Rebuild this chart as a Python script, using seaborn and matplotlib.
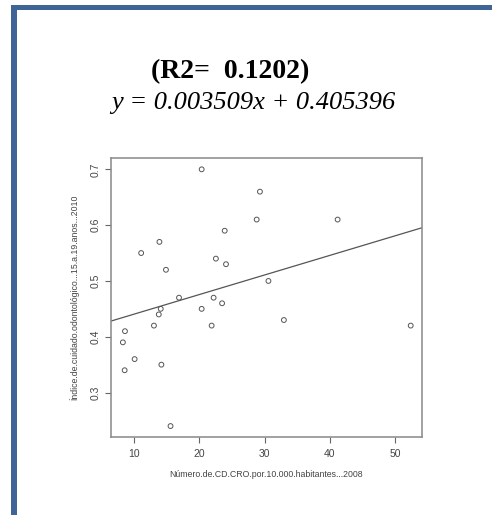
import matplotlib
matplotlib.use("Agg")
import matplotlib.pyplot as plt
from matplotlib.patches import Rectangle
import seaborn as sns
import pandas as pd

# Data
cd_cro = [8.3, 8.57, 8.62, 10.1, 11.1, 13.06, 13.8, 13.9, 14.1, 14.2, 14.9,
          15.6, 16.9, 20.37, 20.37, 21.9, 22.2, 22.55, 23.5, 23.9, 24.1,
          28.8, 29.3, 30.6, 32.97, 41.2, 52.4]
indice = [0.39, 0.34, 0.41, 0.36, 0.55, 0.42, 0.44, 0.57, 0.45, 0.35, 0.52,
          0.24, 0.47, 0.70, 0.45, 0.42, 0.47, 0.54, 0.46, 0.59, 0.53,
          0.61, 0.66, 0.50, 0.43, 0.61, 0.42]
slope, intercept = 0.003509, 0.405396
r2 = 0.1202

x_ticks = [10, 20, 30, 40, 50]
y_ticks = [0.3, 0.4, 0.5, 0.6, 0.7]
x_label = "Número.de.CD.CRO.por.10.000.habitantes...2008"
y_label = "Índice.de.cuidado.odontológico...15.a.19.anos...2010"

df = pd.DataFrame({"x": cd_cro, "y": indice})

sns.set_style("white")
plt.rcParams["font.family"] = ["Liberation Sans", "DejaVu Sans"]

fig = plt.figure(figsize=(4.92, 5.15), dpi=100)
W, H = 492, 515
# axes box in pixels: left 111, top 158, right 422, bottom 437
ax = fig.add_axes([111 / W, 1 - 437 / H, (422 - 111) / W, (437 - 158) / H])

sns.scatterplot(data=df, x="x", y="y", ax=ax, s=12, marker="o",
                facecolors="none", edgecolor="#555555", linewidth=0.7)
ax.axline((0, intercept), slope=slope, color="#555555", lw=0.9)

ax.set_xlim(6.48, 54.13)
ax.set_ylim(0.2204, 0.7203)
ax.set_xticks(x_ticks)
ax.set_yticks(y_ticks)
ax.set_yticklabels([str(v) for v in y_ticks], rotation=90, va="center")
ax.tick_params(axis="both", direction="out", length=4, width=0.8,
               colors="#666666", labelcolor="#444444", labelsize=7.5,
               bottom=True, left=True)
ax.tick_params(axis="x", pad=4.5)
ax.tick_params(axis="y", pad=3.5)
for sp in ax.spines.values():
    sp.set_color("#888888")
    sp.set_linewidth(1.1)
ax.set_xlabel(x_label, fontsize=6.3, color="#444444", labelpad=8)
ax.set_ylabel(y_label, fontsize=6.3, color="#444444", labelpad=8)

# titles
fig.text(230 / W, 1 - 72 / H, f"(R2=  {r2})", ha="center", va="center",
         fontsize=20, fontweight="bold", family="Liberation Serif",
         color="black")
fig.text(253 / W, 1 - 103 / H, f"y = {slope:.6f}x + {intercept:.6f}",
         ha="center", va="center", fontsize=19, style="italic",
         family="Liberation Serif", color="black")

# blue frame
blue = "#3F6496"
fig.add_artist(Rectangle((11 / W, 0), 5.7 / W, 1 - 5 / H,
                         transform=fig.transFigure, color=blue, lw=0))
fig.add_artist(Rectangle((11 / W, 1 - 10 / H), 1, 5 / H,
                         transform=fig.transFigure, color=blue, lw=0))

fig.savefig("out.png", dpi=100)
